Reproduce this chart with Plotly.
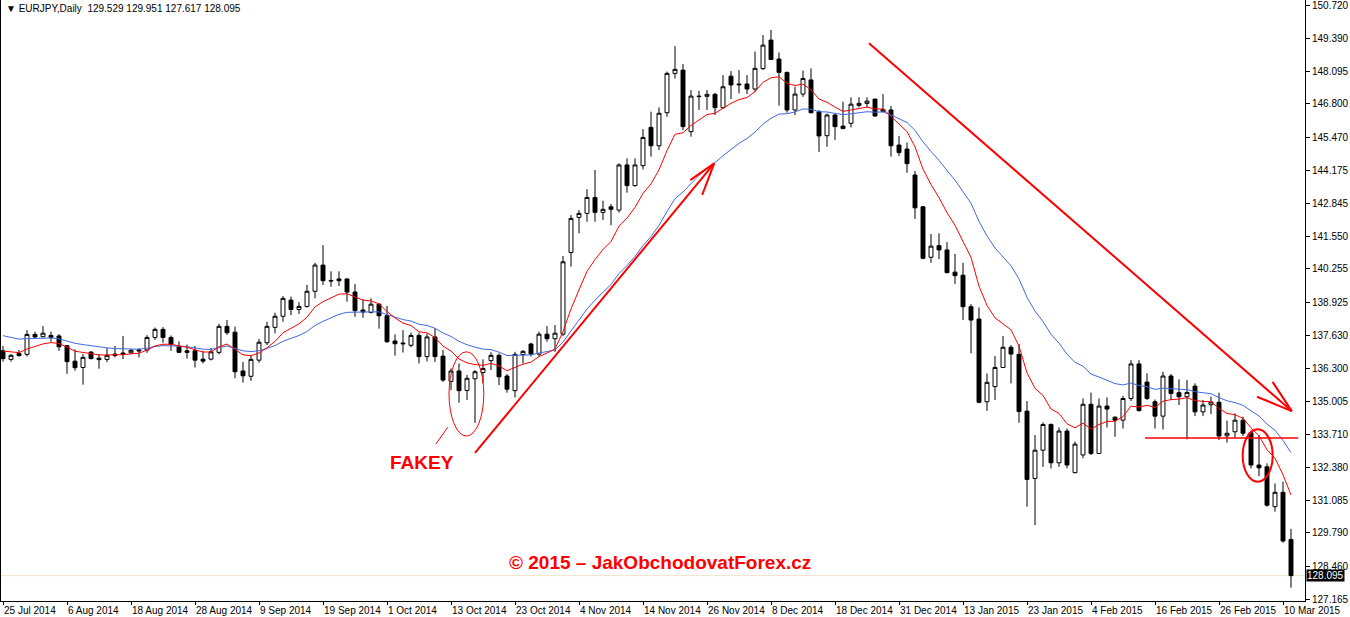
import plotly.graph_objects as go
import pandas as pd

# ---------------- data ----------------
symbol_header = "\u25BC EURJPY,Daily\u00a0\u00a0129.529 129.951 127.617 128.095"

opens = [137.01,136.67,136.90,136.87,137.66,137.57,137.62,137.60,137.21,136.60,
         136.35,136.96,136.72,136.67,136.88,136.87,136.93,137.05,137.04,137.54,
         137.86,137.54,137.17,137.01,137.01,136.68,136.68,136.95,137.98,137.75,
         136.21,136.00,136.64,137.33,137.94,138.38,139.02,138.65,138.77,139.37,
         140.41,139.80,139.86,139.86,139.34,138.63,138.53,138.86,138.40,137.40,
         137.32,137.23,137.62,136.78,137.56,136.80,135.80,136.21,135.44,135.90,
         136.15,136.62,136.83,136.01,135.43,136.86,137.28,136.88,137.67,137.49,
         137.67,140.91,142.30,142.46,143.09,142.50,142.72,142.59,144.38,143.56,
         144.35,145.87,145.14,146.45,148.01,148.14,145.70,147.11,147.10,147.18,
         146.65,147.90,147.59,147.59,147.39,148.20,149.33,148.58,148.05,146.56,
         147.19,147.75,146.49,145.54,146.36,145.92,146.03,146.74,146.82,146.99,
         146.49,146.56,145.17,145.01,143.98,142.72,140.72,141.18,141.01,140.13,
         140.01,138.76,138.27,134.99,135.59,136.35,137.15,136.87,134.62,131.95,
         133.07,134.09,132.57,133.83,132.18,132.88,134.89,132.94,134.82,134.38,
         134.26,135.12,136.49,135.77,134.99,134.42,136.01,135.35,135.19,135.61,
         134.59,134.87,134.97,133.64,133.80,134.26,133.76,132.48,132.41,130.83,
         131.40,129.529]
highs = [137.20,136.88,137.04,137.83,137.77,137.99,137.77,137.67,137.24,137.07,
         136.88,136.99,136.88,137.12,137.20,137.60,137.09,137.11,137.63,137.93,
         137.95,137.62,137.38,137.26,137.20,137.01,137.12,138.08,138.23,137.97,
         136.57,136.84,137.48,138.16,138.52,139.18,139.16,138.94,139.62,140.50,
         141.20,140.16,140.16,139.88,139.66,139.05,139.09,138.89,138.79,137.66,
         137.83,137.73,137.73,137.70,137.90,137.04,136.31,136.51,136.05,136.25,
         136.67,136.95,136.91,136.09,136.97,137.04,137.33,137.77,137.99,138.03,
         140.77,142.39,142.59,143.42,144.18,142.96,142.83,144.44,144.64,144.64,
         145.80,146.49,146.66,148.08,149.09,148.38,147.35,147.32,147.35,147.24,
         147.94,148.10,148.14,147.94,148.87,149.53,149.73,148.84,148.08,147.48,
         148.12,148.21,146.56,146.42,146.42,146.89,147.06,147.06,147.06,147.01,
         147.19,146.72,145.53,145.27,144.14,142.75,141.64,141.67,141.32,140.85,
         140.50,138.86,138.73,136.11,136.80,137.60,137.24,137.28,135.02,133.67,
         134.17,134.13,133.97,133.93,133.41,135.12,135.35,135.12,135.16,134.40,
         135.22,136.64,136.64,136.12,135.08,136.18,136.09,135.88,135.85,135.72,
         135.06,135.19,135.35,134.24,134.53,134.40,133.84,133.67,132.55,131.75,
         131.82,129.951]
lows = [136.58,136.58,136.78,136.78,137.50,137.54,137.37,137.01,136.10,136.22,
        135.67,136.67,136.30,136.56,136.75,136.68,136.88,136.75,136.93,137.44,
        137.33,137.01,136.93,136.70,136.35,136.51,136.63,136.87,137.64,135.92,
        135.75,135.82,136.54,137.24,137.70,138.16,138.43,138.47,138.72,139.09,
        139.62,139.55,139.58,138.96,138.36,138.32,138.49,137.89,137.33,136.82,
        136.94,137.15,136.51,136.59,136.57,135.78,135.45,134.95,135.06,134.15,
        135.72,136.25,135.65,135.35,135.16,136.51,136.78,136.78,137.37,136.97,
        137.60,140.35,141.67,142.13,142.13,142.20,141.99,142.49,143.28,143.52,
        144.20,144.71,144.97,146.29,147.81,145.76,145.50,146.56,146.56,146.36,
        146.62,146.99,147.22,147.19,147.28,148.14,148.54,146.73,146.45,146.36,
        147.08,146.43,144.90,145.10,145.37,145.82,145.87,146.66,146.66,146.29,
        146.48,144.71,144.73,144.07,142.24,140.64,140.50,140.65,140.08,139.66,
        138.23,136.91,134.93,134.63,135.06,136.35,135.72,134.16,130.83,130.10,
        132.41,132.35,132.41,132.35,132.15,132.75,132.88,132.92,133.97,133.60,
        133.93,135.02,134.60,135.06,133.93,133.89,135.06,134.86,133.50,134.42,
        134.42,134.50,133.47,133.37,133.58,133.63,132.35,132.04,130.83,130.63,
        129.40,127.617]
closes = [136.70,136.83,136.82,137.66,137.56,137.71,137.54,137.17,136.58,136.34,
          136.75,136.70,136.66,136.83,136.82,136.92,137.03,137.01,137.54,137.86,
          137.54,137.26,136.95,136.95,136.64,136.60,136.97,137.98,137.73,136.18,
          136.02,136.67,137.35,137.98,138.38,139.09,138.65,138.77,139.37,140.41,
          139.79,139.78,139.79,139.34,138.60,138.55,138.86,138.40,137.37,137.29,
          137.29,137.62,136.78,137.56,136.78,135.85,136.21,135.43,135.92,136.18,
          136.31,136.83,135.98,135.49,136.87,136.99,136.88,137.67,137.49,137.71,
          140.54,142.26,142.46,143.09,142.50,142.62,142.62,144.38,143.56,144.38,
          145.47,145.14,146.43,148.01,148.17,145.90,147.11,147.09,147.18,146.65,
          147.48,147.55,147.56,147.39,148.21,149.13,148.56,148.05,146.56,147.19,
          147.81,146.45,145.53,146.36,145.90,145.82,146.79,146.82,146.91,146.32,
          146.58,145.14,144.87,144.43,142.68,140.68,141.16,141.01,140.11,139.99,
          138.76,138.23,134.97,135.76,136.35,137.15,136.88,134.60,131.91,133.07,
          134.09,132.57,133.83,132.48,133.31,134.89,132.94,134.82,134.70,134.26,
          135.12,136.49,134.64,135.12,134.42,136.01,135.32,135.19,135.36,134.59,
          134.86,134.98,133.63,133.74,134.26,133.74,132.48,132.37,130.89,131.40,
          129.47,128.095]

# moving-average values shown at the first bar (seed for the EMA recursion)
fast_ma_period, fast_ma_start = 9, 137.00
slow_ma_period, slow_ma_start = 21, 137.61

bid_price = 128.095

date_labels = ["25 Jul 2014", "6 Aug 2014", "18 Aug 2014", "28 Aug 2014", "9 Sep 2014",
               "19 Sep 2014", "1 Oct 2014", "13 Oct 2014", "23 Oct 2014", "4 Nov 2014",
               "14 Nov 2014", "26 Nov 2014", "8 Dec 2014", "18 Dec 2014", "31 Dec 2014",
               "13 Jan 2015", "23 Jan 2015", "4 Feb 2015", "16 Feb 2015", "26 Feb 2015",
               "10 Mar 2015"]
price_ticks = [150.720, 149.390, 148.095, 146.800, 145.470, 144.175, 142.845, 141.550,
               140.255, 138.925, 137.630, 136.300, 135.005, 133.710, 132.380, 131.085,
               129.790, 128.460, 127.165]

# ---------------- build ----------------
n = len(closes)
bars = list(range(n))
dates = [d for d in pd.bdate_range("2014-07-25", periods=n + 2)
         if d.strftime("%m-%d") not in ("12-25", "01-01")][:n]
hover = [d.strftime("%d %b %Y") for d in dates]


def ema(values, period, seed):
    a = 2.0 / (period + 1)
    out = [seed]
    for v in values[1:]:
        out.append(out[-1] + a * (v - out[-1]))
    return out


fast = ema(closes, fast_ma_period, fast_ma_start)
slow = ema(closes, slow_ma_period, slow_ma_start)

fig = go.Figure()
fig.add_trace(go.Candlestick(
    x=bars, open=opens, high=highs, low=lows, close=closes, text=hover,
    increasing=dict(line=dict(color="black", width=1), fillcolor="white"),
    decreasing=dict(line=dict(color="black", width=1), fillcolor="black"),
    whiskerwidth=0, showlegend=False, hoverinfo="text+y"))
fig.add_trace(go.Scatter(x=bars, y=slow, mode="lines",
                         line=dict(color="#4169E1", width=1), showlegend=False, hoverinfo="skip"))
fig.add_trace(go.Scatter(x=bars, y=fast, mode="lines",
                         line=dict(color="#FF0000", width=1), showlegend=False, hoverinfo="skip"))

RED = "#FF0000"
shapes = [
    # bid line
    dict(type="line", xref="paper", x0=0, x1=1, yref="y", y0=bid_price, y1=bid_price,
         line=dict(color="#F3E1C6", width=1), layer="below"),
    # up trend arrow
    dict(type="line", x0=59.0, y0=132.96, x1=88.9, y1=144.44, line=dict(color=RED, width=2)),
    dict(type="line", x0=88.9, y0=144.44, x1=85.9, y1=143.78, line=dict(color=RED, width=2)),
    dict(type="line", x0=88.9, y0=144.44, x1=87.4, y1=143.19, line=dict(color=RED, width=2)),
    # down trend arrow
    dict(type="line", x0=108.25, y0=149.21, x1=161.1, y1=134.62, line=dict(color=RED, width=2)),
    dict(type="line", x0=161.1, y0=134.62, x1=156.75, y1=135.19, line=dict(color=RED, width=2)),
    dict(type="line", x0=161.1, y0=134.62, x1=158.7, y1=135.78, line=dict(color=RED, width=2)),
    # support line
    dict(type="line", x0=142.75, y0=133.55, x1=161.9, y1=133.55, line=dict(color=RED, width=1.5)),
    # fakey ellipse and pointer
    dict(type="circle", x0=55.75, x1=60.1, y0=133.63, y1=136.97, line=dict(color=RED, width=1)),
    dict(type="line", x0=54.1, y0=133.31, x1=55.6, y1=133.98, line=dict(color=RED, width=1)),
    # breakdown ellipse
    dict(type="circle", x0=154.96, x1=158.71, y0=131.82, y1=133.90, line=dict(color=RED, width=2)),
]

annotations = [
    dict(xref="paper", yref="paper", x=3 / 1304, y=(601 - 9) / 601, xanchor="left", yanchor="middle",
         text=symbol_header, showarrow=False, font=dict(family="Liberation Sans, Arial", size=10, color="black")),
    dict(x=52.4, y=132.60, text="<b>FAKEY</b>", showarrow=False,
         font=dict(family="Liberation Sans, Arial", size=19, color=RED)),
    dict(x=82.1, y=128.63, text="<b>\u00a9 2015 \u2013 JakObchodovatForex.cz</b>", showarrow=False,
         font=dict(family="Liberation Sans, Arial", size=19, color=RED)),
    dict(xref="paper", x=1.0, xanchor="left", y=bid_price, yref="y", yanchor="middle",
         text="128.095", showarrow=False, bgcolor="black", borderpad=0, xshift=1,
         font=dict(family="Liberation Sans, Arial", size=10, color="white")),
]

fig.update_layout(
    width=1350, height=617,
    margin=dict(l=1, r=45, t=0, b=16, autoexpand=False),
    paper_bgcolor="white", plot_bgcolor="white",
    shapes=shapes, annotations=annotations,
    hovermode="closest",
    font=dict(family="Liberation Sans, Arial", size=10, color="black"),
    xaxis=dict(range=[-0.25, 162.75], tickvals=bars[::8], ticktext=date_labels,
               ticks="outside", ticklen=3, tickcolor="black", ticklabelposition="outside right",
               tickangle=0, automargin=False, ticklabeloverflow="allow",
               showgrid=False, zeroline=False, showline=True, linecolor="black", linewidth=1,
               mirror=True, rangeslider=dict(visible=False), fixedrange=True),
    yaxis=dict(side="right", range=[127.09, 150.92], tickvals=price_ticks,
               ticktext=[f"{v:.3f}" for v in price_ticks], automargin=False,
               ticklabeloverflow="allow",
               ticks="outside", ticklen=4, tickcolor="black",
               showgrid=False, zeroline=False, showline=True, linecolor="black", linewidth=1,
               mirror=True, fixedrange=True),
)

fig.write_html("out.html", config={"displayModeBar": False},
               post_script="document.body.style.margin='0';document.body.style.overflow='hidden';")
